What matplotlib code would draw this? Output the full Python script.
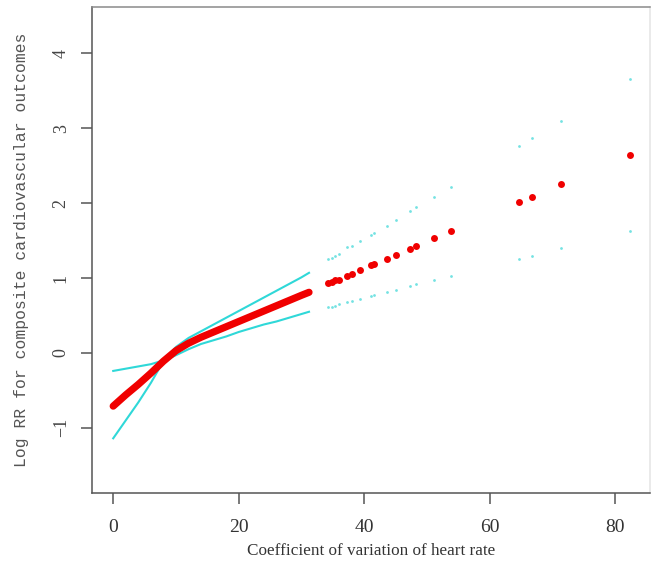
import matplotlib
matplotlib.use("Agg")
import matplotlib.pyplot as plt

# --- spline part (dense, drawn as thick line) ---
spline_x = [0, 2, 4, 6, 8, 10, 12, 14, 16, 18, 20, 22, 24, 26, 28, 30, 31.2]
spline_rr = [-0.71, -0.56, -0.42, -0.27, -0.11, 0.03, 0.13, 0.21, 0.28, 0.35,
             0.42, 0.49, 0.56, 0.63, 0.70, 0.77, 0.81]
spline_upper = [-0.24, -0.21, -0.18, -0.15, -0.10, 0.08, 0.20, 0.29, 0.38, 0.47,
                0.56, 0.65, 0.74, 0.83, 0.92, 1.01, 1.07]
spline_lower = [-1.14, -0.90, -0.66, -0.40, -0.11, -0.03, 0.05, 0.12, 0.17, 0.22,
                0.28, 0.33, 0.38, 0.42, 0.47, 0.52, 0.55]

# --- sparse observations at high CV ---
obs_x = [34.3, 34.8, 35.3, 35.9, 37.2, 38.1, 39.4, 41.0, 41.5, 43.6, 45.0,
         47.3, 48.3, 51.1, 53.8, 64.7, 66.7, 71.4, 82.3]
obs_rr = [0.93, 0.95, 0.97, 0.98, 1.03, 1.05, 1.11, 1.17, 1.19, 1.26, 1.31,
          1.39, 1.43, 1.53, 1.63, 2.01, 2.08, 2.25, 2.64]
obs_upper = [1.25, 1.27, 1.29, 1.32, 1.42, 1.43, 1.49, 1.58, 1.60, 1.70, 1.77,
             1.90, 1.95, 2.08, 2.22, 2.77, 2.87, 3.10, 3.66]
obs_lower = [0.62, 0.62, 0.63, 0.65, 0.68, 0.69, 0.72, 0.76, 0.77, 0.81, 0.84,
             0.90, 0.92, 0.97, 1.03, 1.26, 1.30, 1.40, 1.63]

x_ticks = [0, 20, 40, 60, 80]
y_ticks = [-1, 0, 1, 2, 3, 4]

red = "#f00000"
cyan = "#2fd8d8"

fig = plt.figure(figsize=(6.61, 5.69), dpi=100)
ax = fig.add_axes([0.139, 0.1336, 0.844, 0.8541])

ax.plot(spline_x, spline_upper, color=cyan, lw=1.5, zorder=2)
ax.plot(spline_x, spline_lower, color=cyan, lw=1.5, zorder=2)
ax.plot(spline_x, spline_rr, color=red, lw=5.2, solid_capstyle="round", zorder=3)

ax.plot(obs_x, obs_upper, ls="none", marker="o", ms=2.0, color="#74e2e2", mec="none")
ax.plot(obs_x, obs_lower, ls="none", marker="o", ms=2.0, color="#74e2e2", mec="none")
ax.plot(obs_x, obs_rr, ls="none", marker="o", ms=5.0, color=red, mec="none", zorder=3)

ax.set_xlim(-3.4, 85.5)
ax.set_ylim(-1.87, 4.62)
ax.set_xticks(x_ticks)
ax.set_yticks(y_ticks)
ax.set_xticklabels([str(v) for v in x_ticks], family="Liberation Serif", fontsize=14, color="#333333")
ax.set_yticklabels([str(v) if v >= 0 else "\u22121" for v in y_ticks], family="Liberation Serif",
                   fontsize=13, color="#444444", rotation=90, va="center")

ax.tick_params(axis="x", direction="out", length=8, width=1.1, color="#555555", pad=11)
ax.tick_params(axis="y", direction="out", length=8, width=1.1, color="#555555", pad=8)

ax.spines["left"].set_color("#555555")
ax.spines["bottom"].set_color("#555555")
ax.spines["top"].set_color("#8a8a8a")
ax.spines["right"].set_color("#e4e4e4")
for s in ax.spines.values():
    s.set_linewidth(1.1)

ax.set_xlabel("Coefficient of variation of heart rate", family="Liberation Serif",
              fontsize=12.3, color="#333333", labelpad=5)
ax.set_ylabel("Log RR for composite cardiovascular outcomes", family="Liberation Mono",
              fontsize=11.8, color="#555555", labelpad=17)

fig.savefig("out.png", dpi=100)
